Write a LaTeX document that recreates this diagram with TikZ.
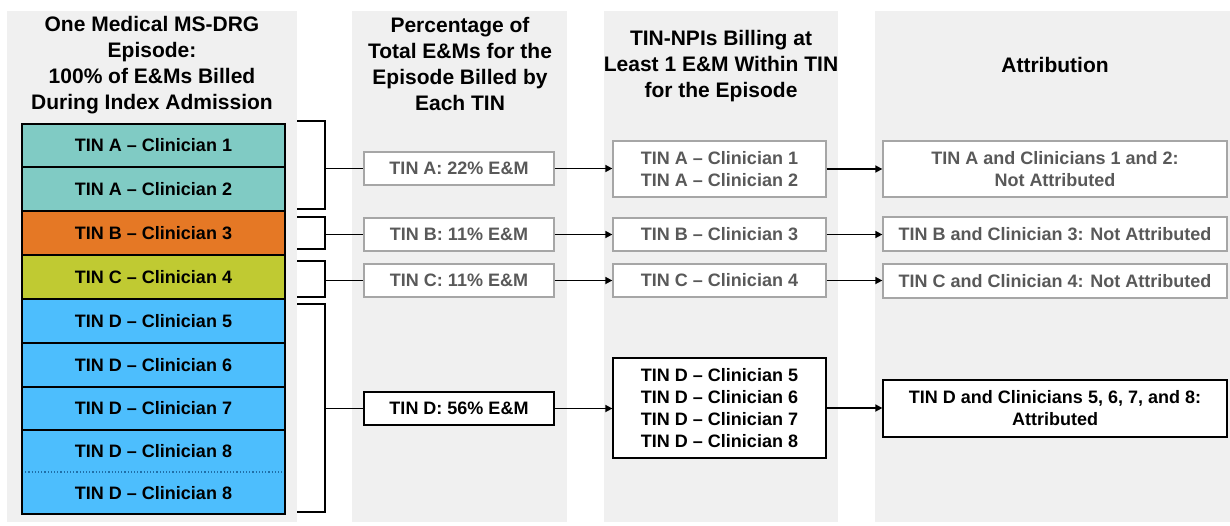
\documentclass[tikz,border=0pt]{standalone}
\usepackage{fontspec}
\setmainfont{Liberation Sans}
\usetikzlibrary{arrows.meta,calc}
\definecolor{bggray}{HTML}{F0F0F0}
\definecolor{boxgray}{HTML}{A6A6A6}
\definecolor{txtgray}{HTML}{595959}
\definecolor{cteal}{HTML}{80CBC4}
\definecolor{corange}{HTML}{E57825}
\definecolor{cgreen}{HTML}{C0CA32}
\definecolor{cblue}{HTML}{4DBEFD}
\definecolor{cdot}{HTML}{1F6FA8}
\tikzset{
  bgcol/.style={fill=bggray,draw=none},
  hdr/.style={align=center,font=\fontsize{21}{26}\selectfont\bfseries,text=black},
  row/.style={draw=black,line width=1.8pt,minimum width=263pt,inner sep=0pt,font=\fontsize{18}{22}\selectfont\bfseries,text=black},
  graybox/.style={draw=boxgray,line width=1.3pt,fill=white,text=txtgray,inner sep=0pt,align=center,font=\fontsize{18}{22}\selectfont\bfseries},
  blackbox/.style={draw=black,line width=1.3pt,fill=white,text=black,inner sep=0pt,align=center,font=\fontsize{18}{22}\selectfont\bfseries},
  bracket/.style={draw=black,line width=1.8pt},
  link/.style={draw=black,line width=1.6pt},
  arr/.style={draw=black,line width=1.6pt,-{Triangle[length=7pt,width=7pt]}}
}
\begin{document}
\begin{tikzpicture}[x=1pt,y=-1pt]
\useasboundingbox (0,0) rectangle (1230,525);
% column backgrounds
\fill[bggray] (7,11) rectangle (297,522);
\fill[bggray] (352,11) rectangle (567,522);
\fill[bggray] (604,11) rectangle (838,522);
\fill[bggray] (875,11) rectangle (1230,522);
% headers
\node[hdr] (h1) at (152,65) {One Medical MS-DRG\\Episode:\\100\% of E\&Ms Billed\\During Index Admission};
\node[hdr] (h2) at (460,64) {Percentage of\\Total E\&Ms for the\\Episode Billed by\\Each TIN};
\node[hdr] (h3) at (721,66) {TIN-NPIs Billing at\\Least 1 E\&M Within TIN\\for the Episode};
\node[hdr] (h4) at (1055,65) {Attribution};
% left stack
\node[row,fill=cteal,minimum height=43pt] (r1) at (153.5,145.5) {TIN A -- Clinician 1};
\node[row,fill=cteal,minimum height=44pt] (r2) at (153.5,189) {TIN A -- Clinician 2};
\node[row,fill=corange,minimum height=44pt] (r3) at (153.5,233) {TIN B -- Clinician 3};
\node[row,fill=cgreen,minimum height=44pt] (r4) at (153.5,277) {TIN C -- Clinician 4};
\node[row,fill=cblue,minimum height=44pt] (r5) at (153.5,321) {TIN D -- Clinician 5};
\node[row,fill=cblue,minimum height=44pt] (r6) at (153.5,365) {TIN D -- Clinician 6};
\node[row,fill=cblue,minimum height=43pt] (r7) at (153.5,408.5) {TIN D -- Clinician 7};
\node[row,draw=none,outer sep=0pt,fill=cblue,minimum height=42pt] (r8) at (153.5,451) {TIN D -- Clinician 8};
\node[row,draw=none,outer sep=0pt,fill=cblue,minimum height=42pt] (r9) at (153.5,493) {TIN D -- Clinician 8};
\draw[cdot,line width=1.2pt,dotted] (r8.south west) -- (r8.south east);
\draw[black,line width=1.8pt] (r8.north west) rectangle (r9.south east);
% brackets
\draw[bracket] (297,121) -| (325,209) -- (297,209);
\draw[bracket] (297,217) -| (325,249) -- (297,249);
\draw[bracket] (297,261) -| (325,297) -- (297,297);
\draw[bracket] (297,304) -| (325,512) -- (297,512);
% column 2
\node[graybox,minimum width=190pt,minimum height=33pt] (p1) at (459,168.5) {TIN A: 22\% E\&M};
\node[graybox,minimum width=190pt,minimum height=33pt] (p2) at (459,234.5) {TIN B: 11\% E\&M};
\node[graybox,minimum width=190pt,minimum height=33pt] (p3) at (459,280.5) {TIN C: 11\% E\&M};
\node[blackbox,minimum width=190pt,minimum height=33pt] (p4) at (459,408.5) {TIN D: 56\% E\&M};
% column 3
\node[graybox,minimum width=213pt,minimum height=56pt] (n1) at (719.5,169) {TIN A -- Clinician 1\\TIN A -- Clinician 2};
\node[graybox,minimum width=213pt,minimum height=33pt] (n2) at (719.5,234.5) {TIN B -- Clinician 3};
\node[graybox,minimum width=213pt,minimum height=33pt] (n3) at (719.5,280.5) {TIN C -- Clinician 4};
\node[blackbox,minimum width=213pt,minimum height=100pt] (n4) at (719.5,408) {TIN D -- Clinician 5\\TIN D -- Clinician 6\\TIN D -- Clinician 7\\TIN D -- Clinician 8};
% column 4
\node[graybox,minimum width=344pt,minimum height=56pt] (a1) at (1055,169) {TIN A and Clinicians 1 and 2:\\Not Attributed};
\node[graybox,minimum width=344pt,minimum height=34pt] (a2) at (1055,234) {TIN B and Clinician 3: Not Attributed};
\node[graybox,minimum width=344pt,minimum height=34pt] (a3) at (1055,281) {TIN C and Clinician 4: Not Attributed};
\node[blackbox,minimum width=344pt,minimum height=57pt] (a4) at (1055,408.5) {TIN D and Clinicians 5, 6, 7, and 8:\\Attributed};
% bracket links
\coordinate (b1) at (325,168.5);
\coordinate (b2) at (325,234.5);
\coordinate (b3) at (325,280.5);
\coordinate (b4) at (325,408.5);
\draw[link] (b1) -- (p1.west);
\draw[link] (b2) -- (p2.west);
\draw[link] (b3) -- (p3.west);
\draw[link] (b4) -- (p4.west);
% arrows
\draw[arr] (p1.east) -- (p1.east -| n1.west);
\draw[arr] (p2.east) -- (p2.east -| n2.west);
\draw[arr] (p3.east) -- (p3.east -| n3.west);
\draw[arr] (p4.east) -- (p4.east -| n4.west);
\draw[arr] (n1.east) -- (n1.east -| a1.west);
\draw[arr] (n2.east) -- (n2.east -| a2.west);
\draw[arr] (n3.east) -- (n3.east -| a3.west);
\draw[arr] (n4.east) -- (n4.east -| a4.west);
\end{tikzpicture}
\end{document}
